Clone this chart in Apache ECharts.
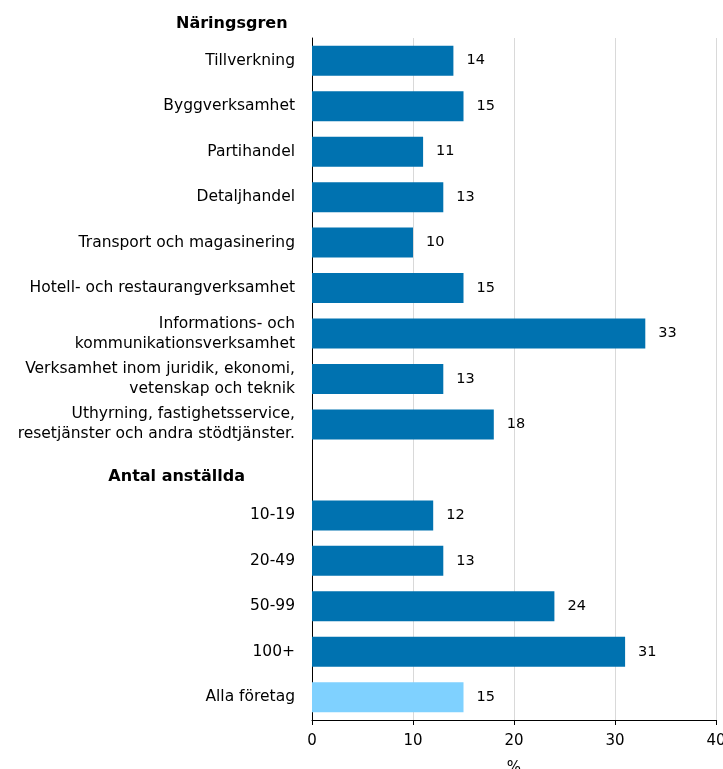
<!DOCTYPE html>
<html><head><meta charset="utf-8">
<script src="https://cdn.jsdelivr.net/npm/echarts@6/dist/echarts.min.js"></script>
<style>html,body{margin:0;padding:0;background:#fff}#c{width:723px;height:769px}</style>
</head><body><div id="c"></div>
<script>
const categories = [
  "Tillverkning",
  "Byggverksamhet",
  "Partihandel",
  "Detaljhandel",
  "Transport och magasinering",
  "Hotell- och restaurangverksamhet",
  "Informations- och\nkommunikationsverksamhet",
  "Verksamhet inom juridik, ekonomi,\nvetenskap och teknik",
  "Uthyrning, fastighetsservice,\nresetjänster och andra stödtjänster.",
  "Antal anställda",
  "10-19",
  "20-49",
  "50-99",
  "100+",
  "Alla företag"
];
const values = [14, 15, 11, 13, 10, 15, 33, 13, 18, null, 12, 13, 24, 31, 15];
const headerCategory = "Antal anställda";
const totalCategory = "Alla företag";
const xTicks = [0, 10, 20, 30, 40];

const FONT = 'DejaVu Sans';
const DARK = '#0072b0', LIGHT = '#7fd1ff';
const chart = echarts.init(document.getElementById('c'));
chart.setOption({
  animation: false,
  title: {
    text: 'Näringsgren', left: 171, top: 11,
    textStyle: { fontFamily: FONT, fontWeight: 'bold', fontSize: 16, color: '#000' }
  },
  grid: { left: 312, right: 7, top: 38, bottom: 49, containLabel: false, outerBoundsMode: 'none' },
  xAxis: {
    type: 'value', min: xTicks[0], max: xTicks[xTicks.length - 1], interval: 10,
    name: '%', nameLocation: 'middle', nameGap: 41,
    nameTextStyle: { fontFamily: FONT, fontSize: 15, color: '#000' },
    axisLine: { show: true, lineStyle: { color: '#000', width: 1 } },
    axisTick: { show: true, length: 5, lineStyle: { color: '#000' } },
    axisLabel: { fontFamily: FONT, fontSize: 15, color: '#000', margin: 14 },
    splitLine: { show: true, lineStyle: { color: '#d9d9d9', width: 1 } }
  },
  yAxis: {
    type: 'category', data: categories, inverse: true,
    axisLine: { show: true, lineStyle: { color: '#000', width: 1 } },
    axisTick: { show: false },
    axisLabel: {
      fontFamily: FONT, fontSize: 15.5, color: '#000', margin: 17, lineHeight: 20,
      formatter: v => v === headerCategory ? '{h|' + v + '}' : v,
      rich: { h: { fontFamily: FONT, fontWeight: 'bold', fontSize: 16, color: '#000', padding: [14, 50, 0, 0] } }
    }
  },
  series: [{
    type: 'bar', barCategoryGap: '34%',
    data: values.map((v, i) => ({
      value: v,
      itemStyle: { color: categories[i] === totalCategory ? LIGHT : DARK }
    })),
    label: {
      show: true, position: 'right', distance: 13,
      fontFamily: FONT, fontSize: 14.5, color: '#000',
      formatter: p => p.value == null ? '' : p.value
    }
  }]
});
</script></body></html>
